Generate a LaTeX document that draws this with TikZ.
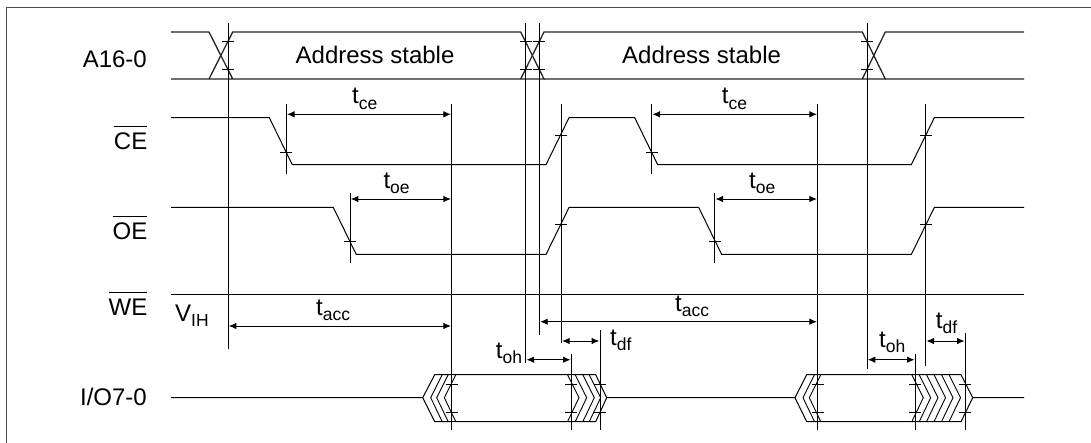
\documentclass[tikz,border=0pt]{standalone}
\usepackage{fontspec}
\setmainfont{Liberation Sans}
\usetikzlibrary{arrows.meta}
\newcommand{\tsig}[2]{#1\raisebox{-0.22em}{\fontsize{17.5}{17.5}\selectfont #2}}
\newcommand{\barred}[1]{\(\overline{\mbox{\rule{0pt}{22.3pt}#1}}\)}
\tikzset{
  wire/.style={draw=black,line width=1pt,line join=miter},
  bus/.style={draw=black!85,line width=1.3pt},
  guide/.style={draw=black,line width=0.9pt},
  dim/.style={draw=black,line width=0.9pt,shorten <=0.8pt,shorten >=0.8pt,{Latex[length=7.5pt,width=6.5pt]}-{Latex[length=7.5pt,width=6.5pt]}},
  lab/.style={inner sep=0pt,anchor=base east,font=\fontsize{24}{24}\selectfont},
  tim/.style={inner sep=0pt,anchor=base west,font=\fontsize{24}{24}\selectfont},
  frame/.style={draw=black!70,line width=1pt}
}
\begin{document}
\begin{tikzpicture}[x=1pt,y=-1pt]
\useasboundingbox (0,0) rectangle (1091,443);
\fill[white] (0,0) rectangle (1091,443);
\draw[frame] (6.5,443) -- (6.5,8) -- (1091,8);
% A16-0
\draw[bus] (171,32) -- (209,32) -- (232.7,79) -- (171,79) (209,79) -- (232.7,32) -- (520.7,32) -- (544,79) -- (232.7,79);
\draw[bus] (520.7,79) -- (544,32) -- (862.3,32) -- (885.3,79) -- (544,79);
\draw[bus] (862.3,79) -- (885.3,32) -- (1024,32) (885.3,79) -- (1024,79);
% CE
\draw[wire] (171,117.7) -- (269.3,117.7) -- (292.3,164.7) -- (546,164.7) -- (569,117.7) -- (634.7,117.7) -- (657.7,164.7) -- (911.3,164.7) -- (934.3,117.7) -- (1024,117.7);
% OE
\draw[wire] (171,207.5) -- (333.3,207.5) -- (356.3,254.5) -- (546,254.5) -- (569,207.5) -- (698.7,207.5) -- (721.7,254.5) -- (911.3,254.5) -- (934.3,207.5) -- (1024,207.5);
% WE
\draw[wire] (171,294.5) -- (1024,294.5);
% I/O
\draw[wire] (171,397.7) -- (422.7,397.7) -- (434.7,374.7) -- (595.7,374.7) -- (606.7,397.7) -- (795,397.7) -- (806.7,374.7) -- (961,374.7) -- (972.7,397.7) -- (1024,397.7);
\draw[wire] (422.7,397.7) -- (434.7,421.7) -- (595.7,421.7) -- (606.7,397.7);
\draw[wire] (795,397.7) -- (806.7,421.7) -- (961,421.7) -- (972.7,397.7);
\foreach \a in {430.7,436.7,444.3,803,809.3}
  \draw[wire,line width=0.9pt] (\a+11.5,374.7) -- (\a,397.7) -- (\a+11.5,421.7);
\foreach \a in {579,586.7,594.3,600.7,923.3,930.7,938,945.5,953,960.5}
  \draw[wire,line width=0.9pt] (\a-11.5,374.7) -- (\a,397.7) -- (\a-11.5,421.7);
% guides
\foreach \x/\a/\b in {228/23/348.5,525.7/23/363,539.4/23/335,867/23/369,
  286.3/104/174,451.7/104/430,561.3/104/343,651.7/104/174,817.7/104/430,925.7/104/366,
  350/193/263,714.7/193/263,571.3/354/430,600/330/430,915.3/354/430,965.3/333/430}
  \draw[guide] (\x,\a) -- (\x,\b);
% ticks
\foreach \x/\y in {228/41,228/69,525.7/41,525.7/69,539.4/41,539.4/69,867/41,867/69,
  286.3/152,561.3/135,651.7/152,925.7/135,
  350/241.5,561.3/224,714.7/241.5,925.7/224,
  451.7/384,451.7/412,571.3/384,571.3/412,600/384,600/412,
  817.7/384,817.7/412,915.3/384,915.3/412,965.3/384,965.3/412}
  \draw[guide] (\x-6,\y) -- (\x+6,\y);
% dimensions
\draw[dim] (286.3,114.3) -- (451.7,114.3);
\draw[dim] (350,199) -- (451.7,199);
\draw[dim] (651.7,114.3) -- (817.7,114.3);
\draw[dim] (714.7,199) -- (817.7,199);
\draw[dim] (228,326) -- (451.7,326);
\draw[dim] (539.4,321.7) -- (817.7,321.7);
\draw[dim] (561.3,341) -- (600,341);
\draw[dim] (925.7,341) -- (965.3,341);
\draw[dim] (525.7,359.7) -- (571.3,359.7);
\draw[dim] (867,359.7) -- (915.3,359.7);
% signal labels
\node[lab] (a) at (147,68) {A16-0};
\node[lab] (ce) at (147.5,150) {\barred{CE}};
\node[lab] (oe) at (147.5,240) {\barred{OE}};
\node[lab] (we) at (147.5,316) {\barred{WE}};
\node[lab] (io) at (147,405) {I/O7-0};
\node[tim] (vih) at (175,321) {\tsig{V}{IH}};
\node[tim] (as1) at (295.5,64) {Address stable};
\node[tim] (as2) at (622,64) {Address stable};
% timing labels
\node[tim] (tce1) at (352,104) {\tsig{t}{ce}};
\node[tim] (toe1) at (383.3,188.5) {\tsig{t}{oe}};
\node[tim] (tce2) at (721.7,104) {\tsig{t}{ce}};
\node[tim] (toe2) at (749,188.5) {\tsig{t}{oe}};
\node[tim] (tacc1) at (316,315.7) {\tsig{t}{acc}};
\node[tim] (tacc2) at (675,311.7) {\tsig{t}{acc}};
\node[tim] (toh1) at (495.7,358.5) {\tsig{t}{oh}};
\node[tim] (tdf1) at (610,345.7) {\tsig{t}{df}};
\node[tim] (toh2) at (879,347.7) {\tsig{t}{oh}};
\node[tim] (tdf2) at (935.7,328.3) {\tsig{t}{df}};
\end{tikzpicture}
\end{document}
